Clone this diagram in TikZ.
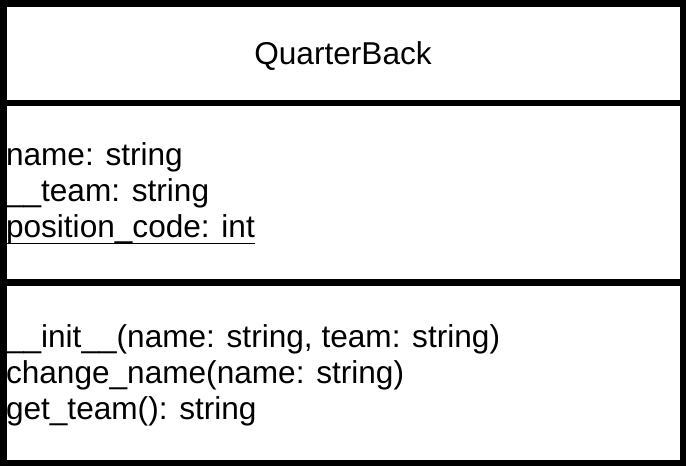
\documentclass[tikz,border=0pt]{standalone}
\usepackage{fontspec}
\setmainfont{Liberation Sans}
\usetikzlibrary{calc}
\begin{document}
\begin{tikzpicture}[x=1pt,y=-1pt,
  frame/.style={draw=black,line width=6.5pt},
  member/.style={anchor=base west,inner sep=0pt,outer sep=0pt,font=\fontsize{31.6}{36}\selectfont},
  classname/.style={anchor=base,inner sep=0pt,outer sep=0pt,font=\fontsize{31.6}{36}\selectfont},
  staticline/.style={draw=black,line width=1.6pt}]
\useasboundingbox (0,0) rectangle (686,466);

% class box and compartment dividers
\coordinate (tl) at (3.25,3.25);
\coordinate (br) at (682.75,462.75);
\coordinate (d1l) at (0,103);
\coordinate (d1r) at (686,103);
\coordinate (d2l) at (0,282.5);
\coordinate (d2r) at (686,282.5);
\draw[frame] (tl) rectangle (br);
\draw[frame] (d1l) -- (d1r);
\draw[frame] (d2l) -- (d2r);

% class name
\node[classname] (title) at (343,64) {QuarterBack};

% attributes
\node[member] (a1) at (6,165) {name: string};
\node[member] (a2) at (6,201) {\_\_team: string};
\node[member] (a3) at (6,237.5) {position\_code: int};
\draw[staticline] ($(a3.base west)+(0,6)$) -- ($(a3.base east)+(0,6)$);

% operations
\node[member] (m1) at (6,347) {\_\_init\_\_(name: string, team: string)};
\node[member] (m2) at (6,383) {change\_name(name: string)};
\node[member] (m3) at (6,419) {get\_team(): string};
\end{tikzpicture}
\end{document}
